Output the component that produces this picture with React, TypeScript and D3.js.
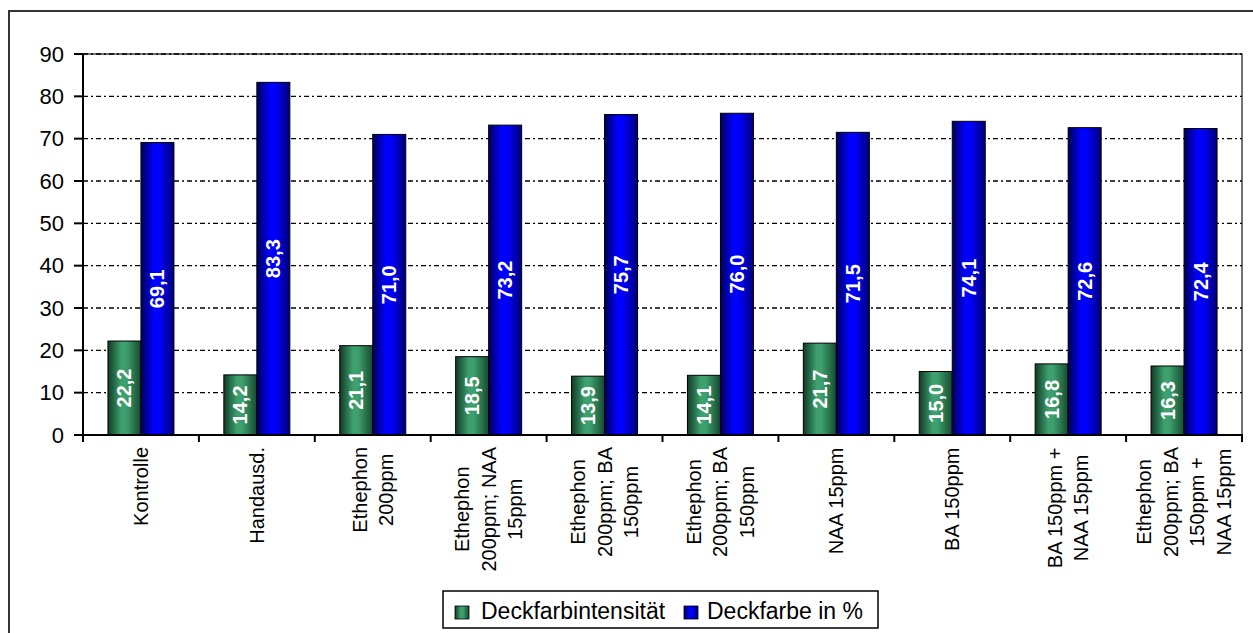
import React from "react";
import * as d3 from "d3";

const categories: string[][] = [
  ["Kontrolle"],
  ["Handausd."],
  ["Ethephon", "200ppm"],
  ["Ethephon", "200ppm; NAA", "15ppm"],
  ["Ethephon", "200ppm; BA", "150ppm"],
  ["Ethephon", "200ppm; BA", "150ppm"],
  ["NAA 15ppm"],
  ["BA 150ppm"],
  ["BA 150ppm +", "NAA 15ppm"],
  ["Ethephon", "200ppm; BA", "150ppm +", "NAA 15ppm"],
];
const seriesNames = ["Deckfarbintensität", "Deckfarbe in %"];
const intensity = [22.2, 14.2, 21.1, 18.5, 13.9, 14.1, 21.7, 15.0, 16.8, 16.3];
const percent = [69.1, 83.3, 71.0, 73.2, 75.7, 76.0, 71.5, 74.1, 72.6, 72.4];
const yTicks = [0, 10, 20, 30, 40, 50, 60, 70, 80, 90];

const FONT = "Arial, 'Liberation Sans', sans-serif";

function measure(text: string, font: string): number {
  const c = document.createElement("canvas");
  const ctx = c.getContext("2d")!;
  ctx.font = font;
  return ctx.measureText(text).width;
}

export default function App() {
  const W = 1253, H = 633;
  const left = 83, right = 1242, top = 54, bottom = 435;
  const idx = categories.map((_, i) => String(i));
  const x0 = d3.scaleBand<string>().domain(idx).range([left, right]).padding(0);
  const x1 = d3
    .scaleBand<string>()
    .domain(["0", "1"])
    .range([0, x0.bandwidth()])
    .paddingInner(0)
    .paddingOuter(0.756);
  const y = d3.scaleLinear().domain([0, 90]).range([bottom, top]);
  const fmt = (v: number) => d3.format(".1f")(v).replace(".", ",");
  const series = [intensity, percent];
  const fills = ["url(#gGreen)", "url(#gBlue)"];
  const catFont = `20px ${FONT}`;
  const lh = 26.5;

  return (
    <svg width={W} height={H} style={{ position: "absolute", left: 0, top: 0 }} fontFamily={FONT}>
      <defs>
        <linearGradient id="gGreen" x1="0" x2="1" y1="0" y2="0">
          <stop offset="0" stopColor="#123a25" />
          <stop offset="0.4" stopColor="#3da06e" />
          <stop offset="0.55" stopColor="#3da06e" />
          <stop offset="1" stopColor="#174a30" />
        </linearGradient>
        <linearGradient id="gBlue" x1="0" x2="1" y1="0" y2="0">
          <stop offset="0" stopColor="#000058" />
          <stop offset="0.4" stopColor="#0000ff" />
          <stop offset="0.55" stopColor="#0000ff" />
          <stop offset="1" stopColor="#000078" />
        </linearGradient>
      </defs>
      <rect x={0} y={0} width={W} height={H} fill="#fff" />
      <rect x={9} y={11} width={W + 20} height={H + 20} fill="none" stroke="#333" strokeWidth={2} />
      <rect x={left} y={top} width={right - left} height={bottom - top} fill="none" stroke="#444" strokeWidth={1.5} />
      {yTicks.slice(1).map((t) => (
        <line key={t} x1={left} x2={right} y1={y(t)} y2={y(t)} stroke="#000" strokeWidth={1.3} strokeDasharray="5,3,2,3" />
      ))}
      {series.map((vals, s) =>
        vals.map((v, i) => {
          const bx = (x0(String(i)) ?? 0) + (x1(String(s)) ?? 0);
          const bw = x1.bandwidth();
          return (
            <g key={`${s}-${i}`}>
              <rect x={bx} y={y(v)} width={bw} height={bottom - y(v)} fill={fills[s]} stroke="#000" strokeWidth={1} />
              <text
                transform={`translate(${bx + bw / 2},${(y(v) + bottom) / 2}) rotate(-90)`}
                textAnchor="middle"
                dominantBaseline="central"
                fill="#fff"
                fontWeight="bold"
                fontSize={20}
              >
                {fmt(v)}
              </text>
            </g>
          );
        })
      )}
      <line x1={left} x2={left} y1={top} y2={bottom + 1} stroke="#000" strokeWidth={2} />
      <line x1={left - 1} x2={right + 1} y1={bottom} y2={bottom} stroke="#000" strokeWidth={2} />
      {yTicks.map((t) => (
        <g key={t}>
          <line x1={left - 9} x2={left} y1={y(t)} y2={y(t)} stroke="#000" strokeWidth={2} />
          <text x={64} y={y(t)} textAnchor="end" dominantBaseline="central" fontSize={22} fill="#000">
            {t}
          </text>
        </g>
      ))}
      {d3.range(categories.length + 1).map((k) => {
        const tx = left + k * x0.step();
        return <line key={k} x1={tx} x2={tx} y1={bottom} y2={bottom + 7} stroke="#000" strokeWidth={2} />;
      })}
      {categories.map((lines, i) => {
        const cx = (x0(String(i)) ?? 0) + x0.bandwidth() / 2;
        const maxW = Math.max(...lines.map((l) => measure(l, catFont)));
        const cy = 447 + maxW / 2;
        return (
          <g key={i}>
            {lines.map((l, k) => (
              <text
                key={k}
                transform={`translate(${cx + (k - (lines.length - 1) / 2) * lh},${cy}) rotate(-90)`}
                textAnchor="middle"
                dominantBaseline="central"
                fontSize={20}
                fill="#000"
              >
                {l}
              </text>
            ))}
          </g>
        );
      })}
      <rect x={443} y={591} width={435} height={37} fill="#fff" stroke="#000" strokeWidth={1.5} />
      <rect x={455} y={606} width={14} height={13} fill="url(#gGreen)" stroke="#000" strokeWidth={0.8} />
      <text x={481} y={611} dominantBaseline="central" fontSize={23} fill="#000">
        {seriesNames[0]}
      </text>
      <rect x={684} y={606} width={14} height={13} fill="url(#gBlue)" stroke="#000" strokeWidth={0.8} />
      <text x={707} y={611} dominantBaseline="central" fontSize={23} fill="#000">
        {seriesNames[1]}
      </text>
    </svg>
  );
}
